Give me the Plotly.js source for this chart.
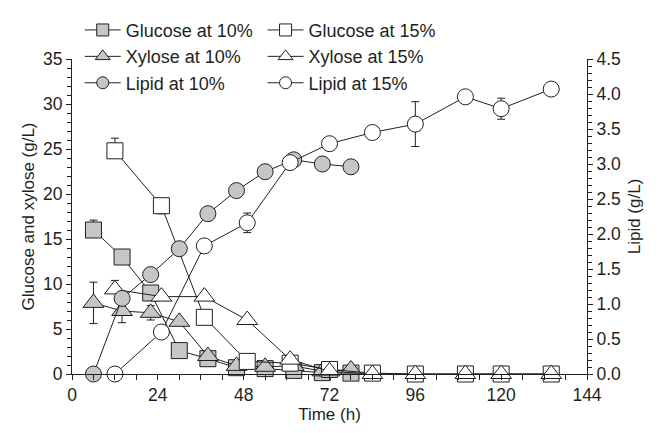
<!DOCTYPE html>
<html>
<head>
<meta charset="utf-8">
<script src="https://cdn.plot.ly/plotly-3.0.1.min.js"></script>
<style>html,body{margin:0;padding:0;background:#fff;}#chart{width:665px;height:433px;}</style>
</head>
<body>
<div id="chart"></div>
<script>
// Sampling times (h)
const time10 = [6, 14, 22, 30, 38, 46, 54, 62, 70, 78];
const time15 = [12, 25, 37, 49, 61, 72, 84, 96, 110, 120, 134];

// Glucose and xylose (g/L)
const glucose10 = [16.0, 13.0, 9.0, 2.6, 1.7, 0.7, 0.6, 0.4, 0.15, 0.1];
const glucose10ErrUp = [1.1, 0, 0, 0, 0, 0, 0, 0, 0, 0];
const glucose10ErrDown = [0, 0, 0, 0, 0, 0, 0, 0, 0, 0];
const xylose10 = [7.9, 7.0, 6.8, 5.8, 2.0, 0.9, 0.8, 0.9, 0.3, 0.5];
const xylose10ErrUp = [2.3, 1.3, 0.8, 0, 0, 0, 0, 0, 0, 0];
const xylose10ErrDown = [2.3, 1.3, 0.8, 0, 0, 0, 0, 0, 0, 0];
const glucose15 = [24.8, 18.7, 6.3, 1.4, 1.2, 0.5, 0.1, 0, 0, 0, 0];
const glucose15ErrUp = [1.4, 0, 0, 0, 0, 0, 0, 0, 0, 0, 0];
const glucose15ErrDown = [0, 0.9, 0, 0, 0, 0, 0, 0, 0, 0, 0];
const xylose15 = [9.4, 8.6, 8.6, 6.0, 1.6, 0.3, 0, 0, 0, 0, 0];
const xylose15ErrUp = [1.0, 0, 0, 0, 0, 0, 0, 0, 0, 0, 0];
const xylose15ErrDown = [0, 0, 0, 0, 0, 0, 0, 0, 0, 0, 0];

// Lipid (g/L)
const lipid10 = [0, 1.08, 1.42, 1.79, 2.29, 2.62, 2.89, 3.06, 3.0, 2.96];
const lipid15 = [0, 0.60, 1.83, 2.16, 3.02, 3.29, 3.45, 3.57, 3.96, 3.79, 4.07];
const lipid15Err = [0, 0, 0, 0.14, 0, 0, 0, 0.32, 0, 0.15, 0];

const names = ["Glucose at 10%", "Xylose at 10%", "Lipid at 10%",
               "Glucose at 15%", "Xylose at 15%", "Lipid at 15%"];

const GRAY = "#c6c6c6";
const FONT = "Liberation Sans, Arial, sans-serif";
const INK = "#231f20";

function tr(x, y, up, down, symbol, fill, yaxis) {
  const t = {
    x: x, y: y, type: "scatter", mode: "lines+markers", showlegend: false,
    yaxis: yaxis, cliponaxis: false, hoverinfo: "skip",
    line: {color: INK, width: 1},
    marker: {symbol: symbol, size: symbol === "triangle-up" ? 18 : 16, color: fill,
             line: {color: INK, width: 1}}
  };
  if (up) {
    t.error_y = {type: "data", symmetric: false, array: up, arrayminus: down,
                 visible: true, color: INK, thickness: 1, width: 4};
  }
  return t;
}

// legend-only entries (no data points)
function leg(name, symbol, fill, legend) {
  return {
    x: [null], y: [null], name: name, type: "scatter", mode: "lines+markers",
    legend: legend, showlegend: true,
    line: {color: INK, width: 1},
    marker: {symbol: symbol, size: symbol === "triangle-up" ? 13 : 12, color: fill,
             line: {color: INK, width: 1}}
  };
}

const data = [
  tr(time10, glucose10, glucose10ErrUp, glucose10ErrDown, "square", GRAY, "y"),
  tr(time10, xylose10, xylose10ErrUp, xylose10ErrDown, "triangle-up", GRAY, "y"),
  tr(time10, lipid10, null, null, "circle", GRAY, "y2"),
  tr(time15, glucose15, glucose15ErrUp, glucose15ErrDown, "square", "#ffffff", "y"),
  tr(time15, xylose15, xylose15ErrUp, xylose15ErrDown, "triangle-up", "#ffffff", "y"),
  tr(time15, lipid15, lipid15Err, lipid15Err, "circle", "#ffffff", "y2"),
  leg(names[0], "square", GRAY, "legend"),
  leg(names[1], "triangle-up", GRAY, "legend"),
  leg(names[2], "circle", GRAY, "legend"),
  leg(names[3], "square", "#ffffff", "legend2"),
  leg(names[4], "triangle-up", "#ffffff", "legend2"),
  leg(names[5], "circle", "#ffffff", "legend2")
];

const legendCommon = {
  bgcolor: "rgba(0,0,0,0)", font: {family: FONT, size: 18, color: INK},
  itemsizing: "trace", itemwidth: 36, tracegroupgap: 0,
  xanchor: "left", yanchor: "top", orientation: "v"
};

const AXF = {family: FONT, size: 17.5, color: INK};
const TTF = {family: FONT, size: 17, color: INK};

const layout = {
  width: 665, height: 433,
  margin: {l: 72, r: 78, t: 45, b: 59},
  paper_bgcolor: "#ffffff", plot_bgcolor: "#ffffff",
  font: {family: FONT, size: 17, color: INK},
  showlegend: true,
  legend: Object.assign({x: 0.015, y: 1.15}, legendCommon),
  legend2: Object.assign({x: 0.37, y: 1.15}, legendCommon),
  xaxis: {
    range: [0, 144], tickmode: "array", tickvals: [0, 24, 48, 72, 96, 120, 144],
    ticks: "outside", ticklen: 5, tickcolor: INK, showline: true, linecolor: INK, linewidth: 1,
    showgrid: false, zeroline: false,
    minor: {dtick: 6, ticks: "outside", ticklen: 5, tickcolor: INK, showgrid: false},
    title: {text: "Time (h)", font: TTF, standoff: 4},
    tickfont: AXF
  },
  yaxis: {
    range: [0, 35], dtick: 5, ticks: "outside", ticklen: 5, tickcolor: INK,
    showline: true, linecolor: INK, linewidth: 1, showgrid: false, zeroline: false,
    minor: {dtick: 1, ticks: "outside", ticklen: 4, tickcolor: INK, showgrid: false},
    title: {text: "Glucose and xylose (g/L)", font: TTF, standoff: 4},
    tickfont: AXF
  },
  yaxis2: {
    range: [0, 4.5], dtick: 0.5, tickformat: ".1f", overlaying: "y", side: "right",
    ticks: "outside", ticklen: 5, tickcolor: INK,
    showline: true, linecolor: INK, linewidth: 1, showgrid: false, zeroline: false,
    minor: {dtick: 0.1, ticks: "outside", ticklen: 4, tickcolor: INK, showgrid: false},
    title: {text: "Lipid (g/L)", font: TTF, standoff: 8},
    tickfont: AXF
  }
};

Plotly.newPlot("chart", data, layout, {displayModeBar: false, staticPlot: true});
</script>
</body>
</html>
